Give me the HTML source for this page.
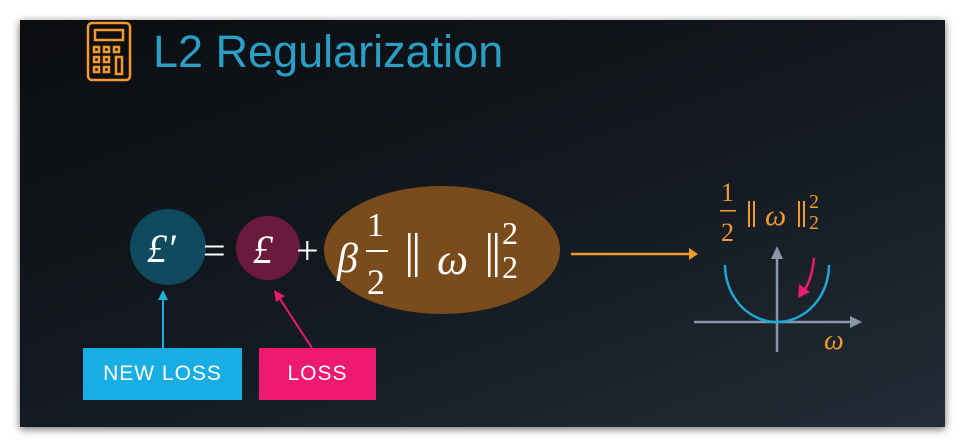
<!DOCTYPE html>
<html><head><meta charset="utf-8"><style>
body{margin:0;width:965px;height:447px;background:#fff;overflow:hidden;position:relative;font-family:"Liberation Sans",sans-serif}
.slide{position:absolute;left:20px;top:20px;width:925px;height:407px;background:linear-gradient(160deg,#0b0d10 0%,#141a21 55%,#232c37 100%);box-shadow:0 2px 8px rgba(0,0,0,.6)}
.box{position:absolute;color:#fff;font-size:21px;text-align:center;line-height:52px;letter-spacing:1px}
</style></head><body>
<div class="slide"></div>
<svg width="965" height="447" style="position:absolute;left:0;top:0">
<g fill="none" stroke="#f29a2e" stroke-width="2.5">
<rect x="88" y="23" width="42" height="57" rx="4"/>
<rect x="95" y="30" width="28" height="10"/>
<rect x="94" y="47" width="5" height="5"/><rect x="104" y="47" width="5" height="5"/><rect x="114" y="47" width="5" height="5"/>
<rect x="94" y="57" width="5" height="5"/><rect x="104" y="57" width="5" height="5"/><rect x="94" y="67" width="5" height="5"/><rect x="104" y="67" width="5" height="5"/>
<rect x="116" y="57" width="6" height="17"/>
</g>
<text x="153" y="67" font-family="Liberation Sans" font-size="45" fill="#2a9ec4">L2 Regularization</text>
<circle cx="168" cy="247" r="38" fill="#0f4a5e"/>
<circle cx="268" cy="248" r="32" fill="#6a1a3c"/>
<ellipse cx="442" cy="250" rx="118" ry="64" fill="#7a4c1c"/>
<g fill="#fff" font-family="Liberation Serif" font-style="italic">
<text x="147" y="262" font-size="40">£′</text>
<text x="253" y="263" font-size="40">£</text>
<text x="337" y="272" font-size="42">β</text>
<text x="437" y="274" font-size="44">ω</text>
</g>
<g fill="#fff" font-family="Liberation Serif">
<text x="203" y="264" font-size="40">=</text>
<text x="296" y="264" font-size="40">+</text>
<text x="367" y="236" font-size="34">1</text>
<rect x="366" y="250" width="22" height="2"/>
<text x="367" y="294" font-size="36">2</text>
<rect x="408" y="233" width="2.5" height="44"/><rect x="415" y="233" width="2.5" height="44"/>
<rect x="488" y="233" width="2.5" height="44"/><rect x="495" y="233" width="2.5" height="44"/>
<text x="502" y="244" font-size="32">2</text>
<text x="502" y="278" font-size="32">2</text>
</g>
<line x1="163" y1="348" x2="163" y2="296" stroke="#1aaee0" stroke-width="2"/>
<polygon points="163,290 158,300 168,300" fill="#1aaee0"/>
<line x1="312" y1="348" x2="278" y2="296" stroke="#ee1a72" stroke-width="2"/>
<polygon points="274,290 276,302 285,296" fill="#ee1a72"/>
<line x1="571" y1="254" x2="690" y2="254" stroke="#f29a2e" stroke-width="2.5"/>
<polygon points="698,254 689,248 689,260" fill="#f29a2e"/>
<line x1="694" y1="322" x2="852" y2="322" stroke="#8a97a8" stroke-width="2.5"/>
<polygon points="862,322 850,316 850,328" fill="#8a97a8"/>
<line x1="777" y1="352" x2="777" y2="256" stroke="#8a97a8" stroke-width="2.5"/>
<polygon points="777,246 771,259 783,259" fill="#8a97a8"/>
<path d="M725,265 A52,57 0 0 0 829,265" fill="none" stroke="#1ea7d6" stroke-width="2.5"/>
<path d="M814,258 Q812,280 803,292" fill="none" stroke="#ee1a72" stroke-width="2.5"/>
<polygon points="798,298 799,284 810,292" fill="#ee1a72"/>
<g fill="#f29a2e" font-family="Liberation Serif">
<text x="721" y="201" font-size="26">1</text>
<rect x="720" y="210" width="16" height="1.5"/>
<text x="721" y="241" font-size="26">2</text>
<rect x="748" y="201" width="2" height="26"/><rect x="753" y="201" width="2" height="26"/>
<text x="765" y="225" font-size="30" font-style="italic">ω</text>
<rect x="798" y="201" width="2" height="26"/><rect x="803" y="201" width="2" height="26"/>
<text x="809" y="208" font-size="20">2</text>
<text x="809" y="229" font-size="20">2</text>
<text x="824" y="349" font-size="28" font-style="italic">ω</text>
</g>
</svg>
<div class="box" style="left:83px;top:348px;width:159px;height:52px;background:#19aee3">NEW LOSS</div>
<div class="box" style="left:259px;top:348px;width:117px;height:52px;background:#ee1a72">LOSS</div>
</body></html>
